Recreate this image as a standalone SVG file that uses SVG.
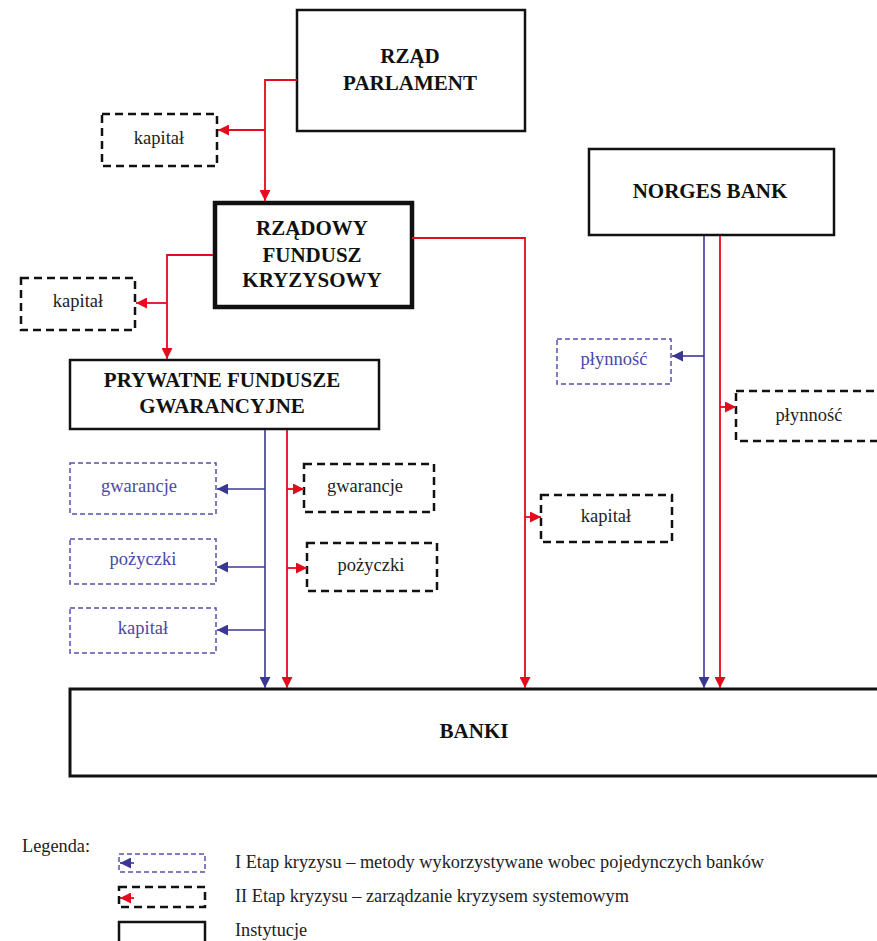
<svg xmlns="http://www.w3.org/2000/svg" width="877" height="941" viewBox="0 0 877 941" font-family="'Liberation Serif', 'Times New Roman', serif">
<style>
text{font-family:'Liberation Serif','Times New Roman',serif;}
.t{font-size:21px;font-weight:bold;fill:#111;text-anchor:middle;}
.s{font-size:18.5px;fill:#222;text-anchor:middle;}
.sb{font-size:18.5px;fill:#4a47a8;text-anchor:middle;}
.lg{font-size:18.3px;fill:#222;}
.inst{fill:#fff;stroke:#111;stroke-width:2.5;}
.dk{fill:#fff;stroke:#111;stroke-width:2.5;stroke-dasharray:8 5;}
.db{fill:#fff;stroke:#5551b0;stroke-width:1.5;stroke-dasharray:5 3;}
.r{fill:none;stroke:#e30b1c;stroke-width:1.8;}
.b{fill:none;stroke:#3b3894;stroke-width:1.6;}
</style>
<defs>
<marker id="ar" markerUnits="userSpaceOnUse" markerWidth="11" markerHeight="11" refX="11" refY="5.5" orient="auto"><path d="M0,0 L11,5.5 L0,11 z" fill="#e30b1c"/></marker>
<marker id="ab" markerUnits="userSpaceOnUse" markerWidth="11" markerHeight="11" refX="11" refY="5.5" orient="auto"><path d="M0,0 L11,5.5 L0,11 z" fill="#3b3894"/></marker>
</defs>

<g id="rzad">
<rect class="inst" x="297" y="10" width="228" height="121"/>
<text class="t" x="410" y="63">RZĄD</text>
<text class="t" x="410" y="90">PARLAMENT</text>
</g>
<g id="kapital1">
<rect class="dk" x="102" y="114" width="115" height="52"/>
<text class="s" x="159" y="144">kapitał</text>
</g>
<g id="rzadowy">
<rect class="inst" x="215" y="203" width="197" height="104" style="stroke-width:4.5"/>
<text class="t" x="312" y="235">RZĄDOWY</text>
<text class="t" x="312" y="262">FUNDUSZ</text>
<text class="t" x="312" y="287">KRYZYSOWY</text>
</g>
<g id="kapital2">
<rect class="dk" x="21" y="278" width="114" height="52"/>
<text class="s" x="78" y="307">kapitał</text>
</g>
<g id="prywatne">
<rect class="inst" x="70" y="360" width="309" height="69"/>
<text class="t" x="222" y="387">PRYWATNE FUNDUSZE</text>
<text class="t" x="222" y="413">GWARANCYJNE</text>
</g>
<g id="gwarancje-b">
<rect class="db" x="70" y="463" width="146" height="51"/>
<text class="sb" x="139" y="492">gwarancje</text>
</g>
<g id="pozyczki-b">
<rect class="db" x="70" y="539" width="146" height="45"/>
<text class="sb" x="143" y="565">pożyczki</text>
</g>
<g id="kapital-b">
<rect class="db" x="70" y="608" width="146" height="45"/>
<text class="sb" x="143" y="634">kapitał</text>
</g>
<g id="gwarancje-r">
<rect class="dk" x="304" y="464" width="130" height="48"/>
<text class="s" x="365" y="492">gwarancje</text>
</g>
<g id="pozyczki-r">
<rect class="dk" x="307" y="543" width="130" height="48"/>
<text class="s" x="371" y="571">pożyczki</text>
</g>
<g id="norges">
<rect class="inst" x="589" y="149" width="245" height="86"/>
<text class="t" x="710" y="198">NORGES BANK</text>
</g>
<g id="plynnosc-b">
<rect class="db" x="557" y="339" width="114" height="45"/>
<text class="sb" x="614" y="365">płynność</text>
</g>
<g id="plynnosc-r">
<rect class="dk" x="736" y="391" width="150" height="50"/>
<text class="s" x="809" y="421">płynność</text>
</g>
<g id="kapital-r">
<rect class="dk" x="541" y="495" width="131" height="47"/>
<text class="s" x="606" y="522">kapitał</text>
</g>
<g id="banki">
<rect class="inst" x="70" y="689" width="820" height="87" style="stroke-width:3"/>
<text class="t" x="474" y="738">BANKI</text>
</g>

<g id="connectors">
<path class="r" d="M297,80 H265 V201" marker-end="url(#ar)"/>
<path class="r" d="M265,130 H218" marker-end="url(#ar)"/>
<path class="r" d="M412,238 H525 V688" marker-end="url(#ar)"/>
<path class="r" d="M525,517 H541" marker-end="url(#ar)"/>
<path class="r" d="M213,255 H167 V359" marker-end="url(#ar)"/>
<path class="r" d="M167,303 H136" marker-end="url(#ar)"/>
<path class="b" d="M265,430 V688" marker-end="url(#ab)"/>
<path class="b" d="M265,489 H217" marker-end="url(#ab)"/>
<path class="b" d="M265,567 H217" marker-end="url(#ab)"/>
<path class="b" d="M265,630 H217" marker-end="url(#ab)"/>
<path class="r" d="M287,430 V688" marker-end="url(#ar)"/>
<path class="r" d="M287,489 H304" marker-end="url(#ar)"/>
<path class="r" d="M287,568 H307" marker-end="url(#ar)"/>
<path class="b" d="M704,236 V688" marker-end="url(#ab)"/>
<path class="b" d="M704,356 H672" marker-end="url(#ab)"/>
<path class="r" d="M720,236 V688" marker-end="url(#ar)"/>
<path class="r" d="M720,407 H736" marker-end="url(#ar)"/>
</g>

<g id="legend">
<text class="lg" x="22" y="852">Legenda:</text>
<rect class="db" x="119" y="854" width="86" height="18"/>
<path class="b" d="M134,863 H120" marker-end="url(#ab)"/>
<text class="lg" x="235" y="868">I Etap kryzysu – metody wykorzystywane wobec pojedynczych banków</text>
<rect class="dk" x="119" y="887" width="86" height="20"/>
<path class="r" d="M134,898 H120" marker-end="url(#ar)"/>
<text class="lg" x="235" y="902">II Etap kryzysu – zarządzanie kryzysem systemowym</text>
<rect class="inst" x="119" y="922" width="86" height="30"/>
<text class="lg" x="235" y="936">Instytucje</text>
</g>
</svg>
